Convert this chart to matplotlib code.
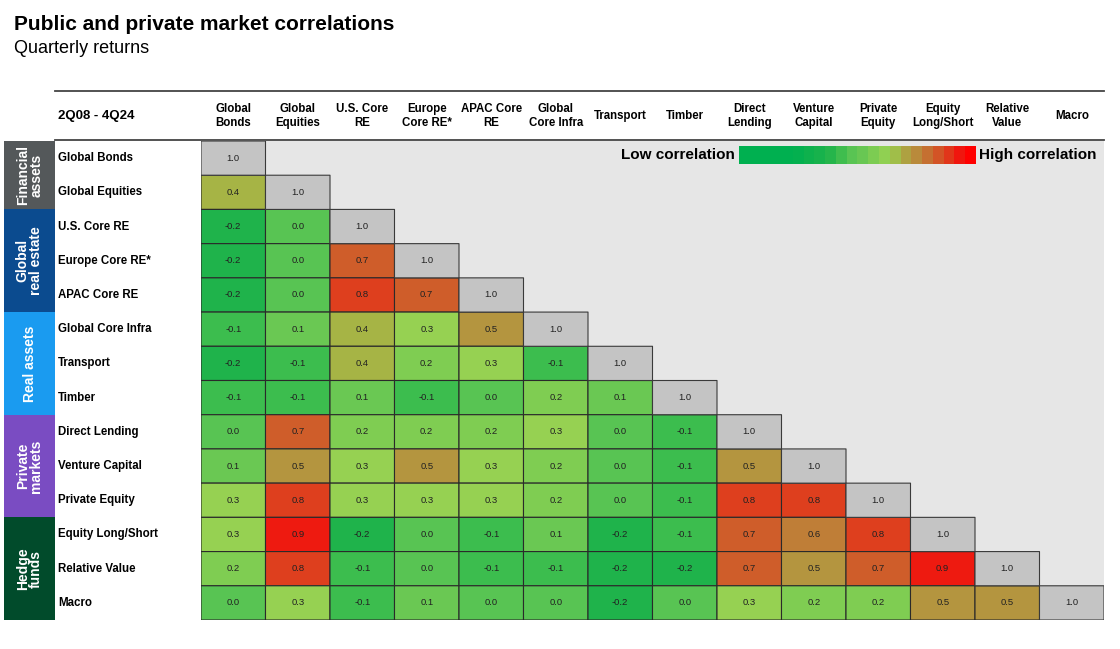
import numpy as np
import matplotlib.pyplot as plt
from matplotlib.colors import LinearSegmentedColormap, ListedColormap
from matplotlib.lines import Line2D
from matplotlib.transforms import blended_transform_factory

plt.rcParams['font.family'] = ['Liberation Sans', 'DejaVu Sans']

title = 'Public and private market correlations'
subtitle = 'Quarterly returns'
period = '2Q08 - 4Q24'

assets = ['Global Bonds', 'Global Equities', 'U.S. Core RE', 'Europe Core RE*',
          'APAC Core RE', 'Global Core Infra', 'Transport', 'Timber',
          'Direct Lending', 'Venture Capital', 'Private Equity',
          'Equity Long/Short', 'Relative Value', 'Macro']
col_labels = ['Global\nBonds', 'Global\nEquities', 'U.S. Core\nRE', 'Europe\nCore RE*',
              'APAC Core\nRE', 'Global\nCore Infra', 'Transport', 'Timber',
              'Direct\nLending', 'Venture\nCapital', 'Private\nEquity',
              'Equity\nLong/Short', 'Relative\nValue', 'Macro']

groups = ['Financial\nassets', 'Global\nreal estate', 'Real assets', 'Private\nmarkets', 'Hedge\nfunds']
group_sizes = [2, 3, 3, 3, 3]
group_colors = ['#54585a', '#0b4b8f', '#1a9bf0', '#7a4cc2', '#014b2b']

# lower triangle of the correlation matrix, row by row
corr_rows = [
    [1.0],
    [0.4, 1.0],
    [-0.2, 0.0, 1.0],
    [-0.2, 0.0, 0.7, 1.0],
    [-0.2, 0.0, 0.8, 0.7, 1.0],
    [-0.1, 0.1, 0.4, 0.3, 0.5, 1.0],
    [-0.2, -0.1, 0.4, 0.2, 0.3, -0.1, 1.0],
    [-0.1, -0.1, 0.1, -0.1, 0.0, 0.2, 0.1, 1.0],
    [0.0, 0.7, 0.2, 0.2, 0.2, 0.3, 0.0, -0.1, 1.0],
    [0.1, 0.5, 0.3, 0.5, 0.3, 0.2, 0.0, -0.1, 0.5, 1.0],
    [0.3, 0.8, 0.3, 0.3, 0.3, 0.2, 0.0, -0.1, 0.8, 0.8, 1.0],
    [0.3, 0.9, -0.2, 0.0, -0.1, 0.1, -0.2, -0.1, 0.7, 0.6, 0.8, 1.0],
    [0.2, 0.8, -0.1, 0.0, -0.1, -0.1, -0.2, -0.2, 0.7, 0.5, 0.7, 0.9, 1.0],
    [0.0, 0.3, -0.1, 0.1, 0.0, 0.0, -0.2, 0.0, 0.3, 0.2, 0.2, 0.5, 0.5, 1.0],
]

n = len(assets)
corr = np.full((n, n), np.nan)
for i, row in enumerate(corr_rows):
    corr[i, :len(row)] = row

# green -> red scale
vmin, vmax = -0.5, 1.0
anchors = [(-0.5, '#00b050'), (-0.2, '#1fb34b'), (-0.1, '#3cbd4e'), (0.0, '#58c453'),
           (0.1, '#6ac853'), (0.2, '#7fcd52'), (0.3, '#96d152'), (0.4, '#a6b445'),
           (0.5, '#b4953f'), (0.6, '#bf7e37'), (0.7, '#cf5d2a'), (0.8, '#de3f1e'),
           (0.9, '#ee1a10'), (1.0, '#ff0000')]
cmap = LinearSegmentedColormap.from_list(
    'corr', [((v - vmin) / (vmax - vmin), c) for v, c in anchors])
cmap.set_under('#00b050')

W, H = 1120, 649
fig = plt.figure(figsize=(W / 100, H / 100), dpi=100)


def px_axes(x0, y0, x1, y1):
    return fig.add_axes([x0 / W, 1 - y1 / H, (x1 - x0) / W, (y1 - y0) / H])


fig.text(14 / W, 1 - 30 / H, title, fontsize=15, fontweight='bold', va='baseline')
fig.text(14 / W, 1 - 53 / H, subtitle, fontsize=13, va='baseline')

for y in (91, 140):
    fig.add_artist(Line2D([55 / W, 1104 / W], [1 - y / H] * 2, color='#444444', lw=1.3))

# matrix
ax = px_axes(201, 141, 1104, 620)
ax.set_facecolor('#e6e6e6')
ax.set_xlim(0, n)
ax.set_ylim(n, 0)
ax.set_xticks([])
ax.set_yticks([])
for s in ax.spines.values():
    s.set_visible(False)

idx = np.arange(n + 1)
lower = np.tril(np.ones((n, n), dtype=bool), -1)
diag = np.eye(n, dtype=bool)
ax.pcolor(idx, idx, np.ma.masked_where(~lower, corr), cmap=cmap, vmin=vmin, vmax=vmax,
          edgecolors='#2a2a2a', linewidth=0.8)
ax.pcolor(idx, idx, np.ma.masked_where(~diag, corr), cmap=ListedColormap(['#c4c4c4']),
          edgecolors='#3a3a3a', linewidth=0.8)

for i in range(n):
    for j in range(i + 1):
        ax.text(j + 0.5, i + 0.5, f'{corr[i, j]:.1f}', ha='center', va='center',
                fontsize=6.8, color='#222222')

for j, lab in enumerate(col_labels):
    ax.text(j + 0.5, -0.73, lab, ha='center', va='center', fontsize=8.3,
            fontweight='bold', linespacing=1.15, clip_on=False)

row_tr = blended_transform_factory(fig.transFigure, ax.transData)
for i, lab in enumerate(assets):
    ax.text(58 / W, i + 0.5, lab, transform=row_tr, ha='left', va='center',
            fontsize=8.3, fontweight='bold')
ax.text(58 / W, -0.73, period, transform=row_tr, ha='left', va='center',
        fontsize=9.5, fontweight='bold')

# group side bars
side = px_axes(4, 141, 55, 620)
side.set_xlim(0, 1)
side.set_ylim(n, 0)
side.set_axis_off()
starts = np.cumsum([0] + group_sizes[:-1])
side.bar(0.5, group_sizes, bottom=starts, width=1, color=group_colors, linewidth=0)
for g, s0, sz in zip(groups, starts, group_sizes):
    side.text(0.5, s0 + sz / 2, g, rotation=90, ha='center', va='center', color='white',
              fontsize=10, fontweight='bold', linespacing=0.95)

# legend bar
leg = px_axes(739, 146, 976, 164)
steps = np.linspace(-0.9, 1.0, 22)
leg.imshow(steps[np.newaxis, :], cmap=cmap, vmin=vmin, vmax=vmax, aspect='auto',
           interpolation='nearest')
leg.set_xticks([])
leg.set_yticks([])
for s in leg.spines.values():
    s.set_visible(False)
fig.text(735 / W, 1 - 155 / H, 'Low correlation', ha='right', va='center',
         fontsize=11, fontweight='bold')
fig.text(979 / W, 1 - 155 / H, 'High correlation', ha='left', va='center',
         fontsize=11, fontweight='bold')

fig.savefig('out.png', dpi=100)
